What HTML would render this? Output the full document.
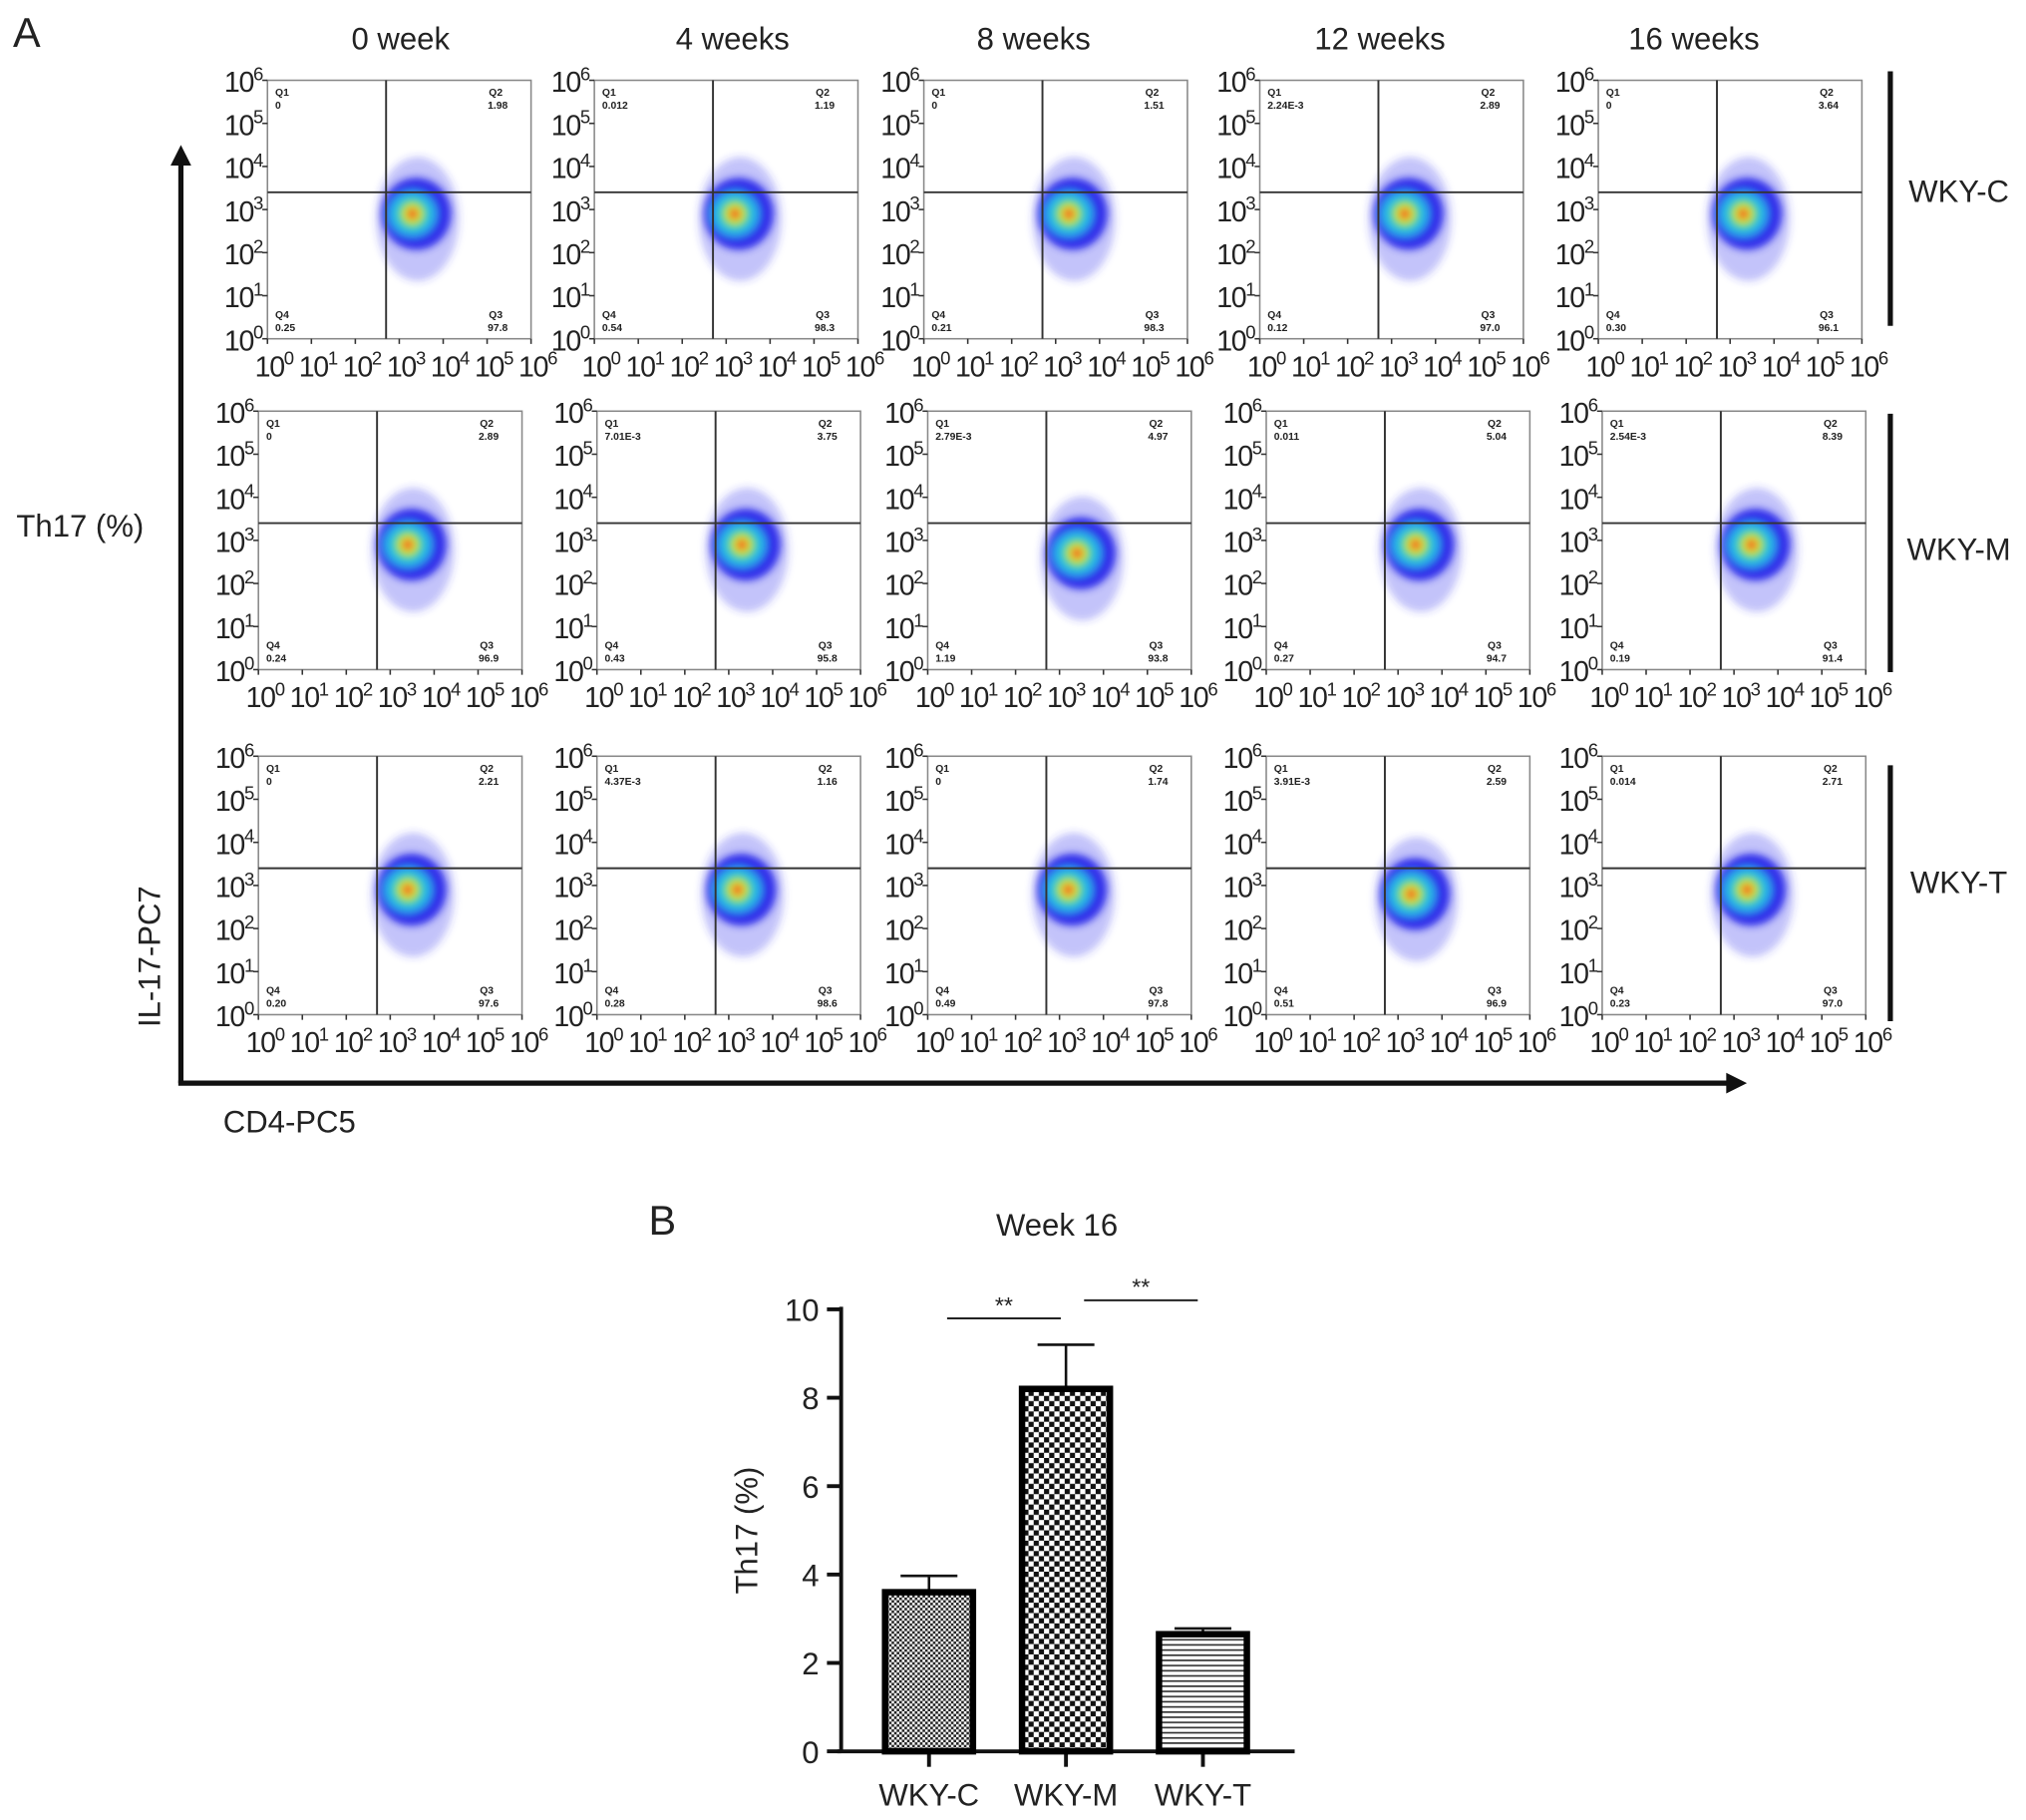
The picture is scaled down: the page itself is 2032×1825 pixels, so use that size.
<!DOCTYPE html>
<html><head><meta charset="utf-8"><style>
html,body{margin:0;padding:0;background:#fff}
svg{display:block}
text{font-family:"Liberation Sans",Arial,sans-serif;fill:#222}
</style></head><body>
<svg id="fig" width="2032" height="1825" viewBox="0 0 1568 1408" xmlns="http://www.w3.org/2000/svg">
<defs>
<filter id="blur" x="-50%" y="-50%" width="200%" height="200%"><feGaussianBlur stdDeviation="3"/></filter>
<pattern id="patC" width="4" height="4" patternUnits="userSpaceOnUse"><rect width="4" height="4" fill="#fff"/><rect width="2" height="2" fill="#222"/><rect x="2" y="2" width="2" height="2" fill="#222"/></pattern>
<pattern id="patM" width="8" height="8" patternUnits="userSpaceOnUse"><rect width="8" height="8" fill="#fff"/><rect width="4" height="4" fill="#111"/><rect x="4" y="4" width="4" height="4" fill="#111"/></pattern>
<pattern id="patT" width="4" height="4" patternUnits="userSpaceOnUse"><rect width="4" height="4" fill="#fff"/><rect y="0" width="4" height="1.3" fill="#333"/></pattern>
</defs>
<g id="panelA"></g>
<g id="panelB"></g>
</svg>
<script>
const NS="http://www.w3.org/2000/svg";
// ---- Panel A data ----
const weeks=["0 week","4 weeks","8 weeks","12 weeks","16 weeks"];
const groups=["WKY-C","WKY-M","WKY-T"];
const q1Vals=[["0","0.012","0","2.24E-3","0"],["0","7.01E-3","2.79E-3","0.011","2.54E-3"],["0","4.37E-3","0","3.91E-3","0.014"]];
const q2Vals=[["1.98","1.19","1.51","2.89","3.64"],["2.89","3.75","4.97","5.04","8.39"],["2.21","1.16","1.74","2.59","2.71"]];
const q4Vals=[["0.25","0.54","0.21","0.12","0.30"],["0.24","0.43","1.19","0.27","0.19"],["0.20","0.28","0.49","0.51","0.23"]];
const q3Vals=[["97.8","98.3","98.3","97.0","96.1"],["96.9","95.8","93.8","94.7","91.4"],["97.6","98.6","97.8","96.9","97.0"]];
const cloudX=[[3.3,3.2,3.3,3.3,3.3],[3.4,3.3,3.4,3.4,3.4],[3.4,3.2,3.2,3.3,3.3]];
const cloudY=[[2.9,2.9,2.9,2.9,2.9],[2.9,2.9,2.7,2.9,2.9],[2.9,2.9,2.9,2.8,2.9]];
const gateXLog=2.7, gateYLog=3.4;
const decadeTicks=[0,1,2,3,4,5,6];

const rowTops=[62,318,585];
const rowLefts=[[207,460,715,975,1237],[200,462,718,980,1240],[200,462,718,980,1240]];
const PW=204,PH=200;
const headerX=[310,567,800,1068,1311];
const rowLabelY=[148,425,683];
const rowBar=[[55,252],[320,520],[592,790]];

function el(tag,attrs,parent,txt){const e=document.createElementNS(NS,tag);for(const k in attrs)e.setAttribute(k,attrs[k]);if(txt!==undefined)e.textContent=txt;parent.appendChild(e);return e;}
const A=document.getElementById('panelA');

let t=el('text',{x:10,y:36,'font-size':32},A,'A');



weeks.forEach((w,i)=>{const h=el('text',{x:headerX[i],y:38,'font-size':24,'text-anchor':'middle'},A,w);

});
groups.forEach((g,r)=>{const l=el('text',{x:1516,y:rowLabelY[r]+8,'font-size':24,'text-anchor':'middle'},A,g);


const b=el('line',{x1:1463,x2:1463,y1:rowBar[r][0],y2:rowBar[r][1],stroke:'#111','stroke-width':4},A);

});

const ax=el('g',{},A);


el('path',{d:'M140 838 L140 125',stroke:'#111','stroke-width':4,fill:'none'},ax);
el('path',{d:'M132 128 L140 112 L148 128 Z',fill:'#111'},ax);
el('path',{d:'M138 838 L1338 838',stroke:'#111','stroke-width':4,fill:'none'},ax);
el('path',{d:'M1336 830 L1352 838 L1336 846 Z',fill:'#111'},ax);
let tt=el('text',{x:62,y:415,'font-size':24,'text-anchor':'middle'},A,'Th17 (%)');


tt=el('text',{x:0,y:0,'font-size':24,'text-anchor':'middle',transform:'translate(124,740) rotate(-90)'},A,'IL-17-PC7');


tt=el('text',{x:224,y:876,'font-size':24,'text-anchor':'middle'},A,'CD4-PC5');



function pow(parent,x,y,exp,anchorEnd,fs){
  const tx=el('text',{x:x,y:y,'font-size':fs,'text-anchor':anchorEnd?'end':'middle','letter-spacing':-1},parent);
  el('tspan',{},tx,'10');el('tspan',{dy:-9,'font-size':fs*0.65},tx,String(exp));return tx;}

for(let r=0;r<3;r++)for(let c=0;c<5;c++){
  const x0=rowLefts[r][c], y0=rowTops[r];
  const sx=v=>x0+v/6*PW, sy=v=>y0+PH-v/6*PH;
  const g=el('g',{},A);
  
  
  el('rect',{x:x0,y:y0,width:PW,height:PH,fill:'#fff',stroke:'#888','stroke-width':1.2},g);
  const cx=sx(cloudX[r][c]), cy=sy(cloudY[r][c]);
  const cl=el('g',{filter:'url(#blur)'},g);
  
  
  el('ellipse',{cx:cx+4,cy:cy+4,rx:32,ry:48,fill:'#3a3af0',opacity:0.3},cl);
  el('ellipse',{cx:cx+3,cy:cy,rx:27,ry:28,fill:'#1a1ae8',opacity:0.85},cl);
  el('ellipse',{cx:cx,cy:cy,rx:18,ry:17,fill:'#22b8e8'},cl);
  el('ellipse',{cx:cx,cy:cy,rx:11,ry:11,fill:'#5fe05a'},cl);
  el('ellipse',{cx:cx,cy:cy,rx:7,ry:7,fill:'#f0e030'},cl);
  el('ellipse',{cx:cx,cy:cy,rx:4,ry:4,fill:'#e83020'},cl);
  el('line',{x1:sx(gateXLog),x2:sx(gateXLog),y1:y0,y2:y0+PH,stroke:'#333','stroke-width':1.5},g);
  el('line',{x1:x0,x2:x0+PW,y1:sy(gateYLog),y2:sy(gateYLog),stroke:'#333','stroke-width':1.5},g);
  const fs=8;
  el('text',{x:x0+6,y:y0+12,'font-size':fs,'font-weight':'bold'},g,'Q1');
  el('text',{x:x0+6,y:y0+22,'font-size':fs,'font-weight':'bold'},g,q1Vals[r][c]);
  el('text',{x:x0+PW-22,y:y0+12,'font-size':fs,'font-weight':'bold','text-anchor':'end'},g,'Q2');
  el('text',{x:x0+PW-18,y:y0+22,'font-size':fs,'font-weight':'bold','text-anchor':'end'},g,q2Vals[r][c]);
  el('text',{x:x0+6,y:y0+PH-16,'font-size':fs,'font-weight':'bold'},g,'Q4');
  el('text',{x:x0+6,y:y0+PH-6,'font-size':fs,'font-weight':'bold'},g,q4Vals[r][c]);
  el('text',{x:x0+PW-22,y:y0+PH-16,'font-size':fs,'font-weight':'bold','text-anchor':'end'},g,'Q3');
  el('text',{x:x0+PW-18,y:y0+PH-6,'font-size':fs,'font-weight':'bold','text-anchor':'end'},g,q3Vals[r][c]);
  decadeTicks.forEach(d=>{
    el('line',{x1:x0-4,x2:x0,y1:sy(d),y2:sy(d),stroke:'#333','stroke-width':1.2},g);
    const yl=pow(g,x0-4,sy(d)+9,d,true,22);
    
    
    el('line',{x1:sx(d),x2:sx(d),y1:y0+PH,y2:y0+PH+4,stroke:'#333','stroke-width':1.2},g);
    const xl=pow(g,sx(d)+5,y0+PH+29,d,false,22);
    
    
  });
}

// ---- Panel B data ----
const barCats=["WKY-C","WKY-M","WKY-T"];
const barVals=[3.6,8.2,2.65];
const barErr=[0.37,1.0,0.13];
const yTicks=[0,2,4,6,8,10];
const sigPairs=[[0,1],[1,2]];
const sigLabels=["**","**"];
const B=document.getElementById('panelB');
const X0=651,X1=1002,Y0=1355,Y1=1013;
const ys=v=>Y0-(v/10)*(Y0-Y1);
const xs=i=>719+i*106;
const BW=68;
t=el('text',{x:502,y:955,'font-size':32},B,'B');


t=el('text',{x:818,y:956,'font-size':24,'text-anchor':'middle'},B,'Week 16');


const yAx=el('g',{},B);


el('line',{x1:X0,x2:X0,y1:Y1-2,y2:Y0+1,stroke:'#111','stroke-width':3},yAx);
yTicks.forEach(v=>{el('line',{x1:X0-11,x2:X0,y1:ys(v),y2:ys(v),stroke:'#111','stroke-width':3},yAx);
 const l=el('text',{x:X0-17,y:ys(v)+9,'font-size':24,'text-anchor':'end'},yAx,String(v));
 
 });
t=el('text',{x:0,y:0,'font-size':24,'text-anchor':'middle',transform:`translate(586,${ys(5)}) rotate(-90)`},B,'Th17 (%)');


const xAx=el('g',{},B);


el('line',{x1:X0-3,x2:X1,y1:Y0,y2:Y0,stroke:'#111','stroke-width':3},xAx);
const pats=['url(#patC)','url(#patM)','url(#patT)'];
barCats.forEach((cat,i)=>{
  const cx=xs(i);
  el('line',{x1:cx,x2:cx,y1:Y0,y2:Y0+12,stroke:'#111','stroke-width':3},xAx);
  const l=el('text',{x:cx,y:Y0+42,'font-size':24,'text-anchor':'middle'},xAx,cat);
  
  
  const eb=el('g',{},B);
  
  
  el('line',{x1:cx,x2:cx,y1:ys(barVals[i]),y2:ys(barVals[i]+barErr[i]),stroke:'#111','stroke-width':2},eb);
  el('line',{x1:cx-22,x2:cx+22,y1:ys(barVals[i]+barErr[i]),y2:ys(barVals[i]+barErr[i]),stroke:'#111','stroke-width':2},eb);
  const b=el('rect',{x:cx-BW/2,y:ys(barVals[i]),width:BW,height:Y0-ys(barVals[i]),fill:pats[i],stroke:'#000','stroke-width':5},B);
  
  
});
const sigY=[1020,1006];
sigPairs.forEach((p,k)=>{
  const g=el('g',{},B);
  
  
  const xa=xs(p[0])+14, xb=xs(p[1])-4;
  el('line',{x1:xa,x2:xb,y1:sigY[k],y2:sigY[k],stroke:'#222','stroke-width':1.5},g);
  el('text',{x:(xa+xb)/2,y:sigY[k]-4,'font-size':18,'text-anchor':'middle'},g,sigLabels[k]);
});
</script>
</body></html>
